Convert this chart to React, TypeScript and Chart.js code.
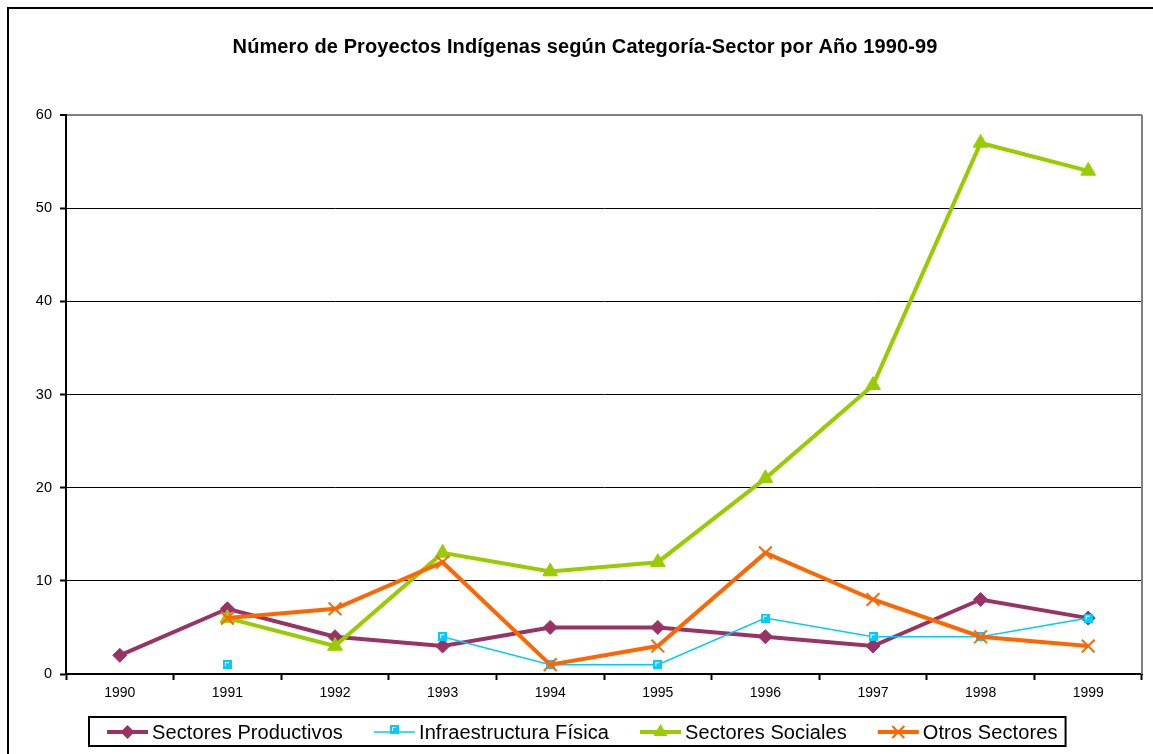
import React, { useEffect, useRef } from "react";
import { Chart, registerables } from "chart.js";

Chart.register(...registerables);

const years = ["1990", "1991", "1992", "1993", "1994", "1995", "1996", "1997", "1998", "1999"];
const productivos = [2, 7, 4, 3, 5, 5, 4, 3, 8, 6];
const infraestructura = [null, 1, null, 4, 1, 1, 6, 4, 4, 6];
const sociales = [null, 6, 3, 13, 11, 12, 21, 31, 57, 54];
const otros = [null, 6, 7, 12, 1, 3, 13, 8, 4, 3];
const seriesNames = ["Sectores Productivos", "Infraestructura Física", "Sectores Sociales", "Otros Sectores"];
const chartTitle = "Número de Proyectos Indígenas según Categoría-Sector por Año 1990-99";

const C_PROD = "#993366";
const C_INFRA = "#00CCFF";
const C_SOC = "#99CC00";
const C_OTROS = "#FF6600";
const FONT = '"Liberation Sans", Arial, sans-serif';

function makeInfraMarker(): HTMLCanvasElement {
  const c = document.createElement("canvas");
  c.width = 9;
  c.height = 9;
  const g = c.getContext("2d")!;
  g.fillStyle = C_INFRA;
  g.fillRect(0, 0, 9, 9);
  g.fillStyle = "#ffffff";
  g.fillRect(2, 2, 4, 1);
  g.fillRect(2, 2, 1, 4);
  return c;
}

export default function App() {
  const ref = useRef<HTMLCanvasElement | null>(null);

  useEffect(() => {
    const canvas = ref.current!;
    const infraMarker = makeInfraMarker();

    const decorPlugin = {
      id: "decor",
      beforeDraw(chart: any) {
        const ctx = chart.ctx;
        ctx.save();
        ctx.fillStyle = "#ffffff";
        ctx.fillRect(0, 0, chart.width, chart.height);
        ctx.restore();
      },
      beforeDatasetsDraw(chart: any) {
        const ctx = chart.ctx;
        const a = chart.chartArea;
        ctx.save();
        ctx.strokeStyle = "#808080";
        ctx.lineWidth = 2;
        ctx.beginPath();
        ctx.moveTo(a.right, a.top);
        ctx.lineTo(a.right, a.bottom);
        ctx.stroke();
        ctx.restore();
      },
      afterDraw(chart: any) {
        const ctx = chart.ctx;
        ctx.save();
        // outer frame
        ctx.strokeStyle = "#000";
        ctx.lineWidth = 2;
        ctx.strokeRect(8, 8, 3000, 3000);
        // title
        ctx.fillStyle = "#000";
        ctx.font = `bold 20px ${FONT}`;
        (ctx as any).letterSpacing = "0.1px";
        ctx.textAlign = "center";
        ctx.textBaseline = "middle";
        ctx.fillText(chartTitle, 585, 47);

        // legend
        const ly = 732;
        const gap = 31;
        let x = 107;
        ctx.font = `20px ${FONT}`;
        (ctx as any).letterSpacing = "0.1px";
        ctx.textAlign = "left";
        const styles = [
          { color: C_PROD, lw: 4, m: "diamond" },
          { color: C_INFRA, lw: 1.5, m: "infra" },
          { color: C_SOC, lw: 4, m: "tri" },
          { color: C_OTROS, lw: 4, m: "x" },
        ];
        styles.forEach((s, i) => {
          ctx.strokeStyle = s.color;
          ctx.lineWidth = s.lw;
          ctx.beginPath();
          ctx.moveTo(x, ly);
          ctx.lineTo(x + 41, ly);
          ctx.stroke();
          const cx = x + 20.5;
          if (s.m === "diamond") {
            const r = 7;
            ctx.fillStyle = s.color;
            ctx.beginPath();
            ctx.moveTo(cx, ly - r);
            ctx.lineTo(cx + r, ly);
            ctx.lineTo(cx, ly + r);
            ctx.lineTo(cx - r, ly);
            ctx.closePath();
            ctx.fill();
          } else if (s.m === "infra") {
            ctx.drawImage(infraMarker, Math.round(cx - 4), Math.round(ly - 7));
          } else if (s.m === "tri") {
            const r = 8;
            ctx.fillStyle = s.color;
            ctx.beginPath();
            ctx.moveTo(cx, ly - r);
            ctx.lineTo(cx + r * 0.866, ly + r * 0.5);
            ctx.lineTo(cx - r * 0.866, ly + r * 0.5);
            ctx.closePath();
            ctx.fill();
          } else {
            const d = 6;
            ctx.lineWidth = 2;
            ctx.beginPath();
            ctx.moveTo(cx - d, ly - d);
            ctx.lineTo(cx + d, ly + d);
            ctx.moveTo(cx + d, ly - d);
            ctx.lineTo(cx - d, ly + d);
            ctx.stroke();
          }
          ctx.fillStyle = "#000";
          const tx = x + 45;
          ctx.fillText(seriesNames[i], tx, ly + 1);
          x = tx + ctx.measureText(seriesNames[i]).width + gap;
        });
        const boxRight = x - gap + 8;
        ctx.strokeStyle = "#000";
        ctx.lineWidth = 2;
        ctx.strokeRect(89, 717, boxRight - 89, 29);
        ctx.restore();
      },
    };

    const chart = new Chart(canvas, {
      type: "line",
      data: {
        labels: years,
        datasets: [
          {
            label: seriesNames[0],
            data: productivos,
            borderColor: C_PROD,
            backgroundColor: C_PROD,
            borderWidth: 4,
            pointStyle: "rectRot",
            pointRadius: 7,
            pointBorderWidth: 1,
            pointBackgroundColor: C_PROD,
            pointBorderColor: C_PROD,
            order: 4,
            spanGaps: false,
          },
          {
            label: seriesNames[1],
            data: infraestructura,
            borderColor: C_INFRA,
            backgroundColor: C_INFRA,
            borderWidth: 1.5,
            pointStyle: infraMarker as any,
            pointRadius: 4,
            order: 3,
            spanGaps: false,
          },
          {
            label: seriesNames[2],
            data: sociales,
            borderColor: C_SOC,
            backgroundColor: C_SOC,
            borderWidth: 4,
            pointStyle: "triangle",
            pointRadius: 8.5,
            pointBorderWidth: 1,
            pointBackgroundColor: C_SOC,
            pointBorderColor: C_SOC,
            order: 2,
            spanGaps: false,
          },
          {
            label: seriesNames[3],
            data: otros,
            borderColor: C_OTROS,
            backgroundColor: C_OTROS,
            borderWidth: 4,
            pointStyle: "crossRot",
            pointRadius: 9,
            pointBorderWidth: 2,
            pointBorderColor: C_OTROS,
            order: 1,
            spanGaps: false,
          },
        ] as any,
      },
      options: {
        responsive: false,
        maintainAspectRatio: false,
        animation: false,
        layout: { padding: { top: 115, left: 0, right: 9, bottom: 40 } },
        plugins: {
          legend: { display: false },
          title: { display: false },
          tooltip: { enabled: false },
        },
        elements: { line: { tension: 0 } },
        scales: {
          x: {
            type: "category",
            offset: true,
            grid: {
              offset: true,
              drawOnChartArea: false,
              drawTicks: true,
              tickLength: 6,
              tickColor: "#000",
              tickWidth: 2,
            },
            border: { color: "#000", width: 2 },
            ticks: {
              color: "#000",
              font: { family: FONT, size: 14 },
              padding: 5,
              maxRotation: 0,
              autoSkip: false,
            },
            afterFit(scale: any) {
              scale.height = 40;
            },
          },
          y: {
            min: 0,
            max: 60,
            grid: {
              color: (c: any) => (c.tick && c.tick.value === 60 ? "#808080" : "#000"),
              lineWidth: (c: any) => (c.tick && c.tick.value === 60 ? 2 : 1),
              drawTicks: true,
              tickLength: 6,
              tickColor: "#000",
              tickWidth: 2,
            },
            border: { color: "#000", width: 2 },
            ticks: {
              stepSize: 10,
              color: "#000",
              font: { family: FONT, size: 14.5 },
              padding: 8,
            },
            afterFit(scale: any) {
              scale.width = 66;
            },
          },
        },
      } as any,
      plugins: [decorPlugin],
    });

    return () => chart.destroy();
  }, []);

  return (
    <div style={{ position: "absolute", left: 0, top: 0, width: 1153, height: 754 }}>
      <canvas ref={ref} width={1153} height={754} style={{ width: 1153, height: 754, display: "block" }} />
    </div>
  );
}
